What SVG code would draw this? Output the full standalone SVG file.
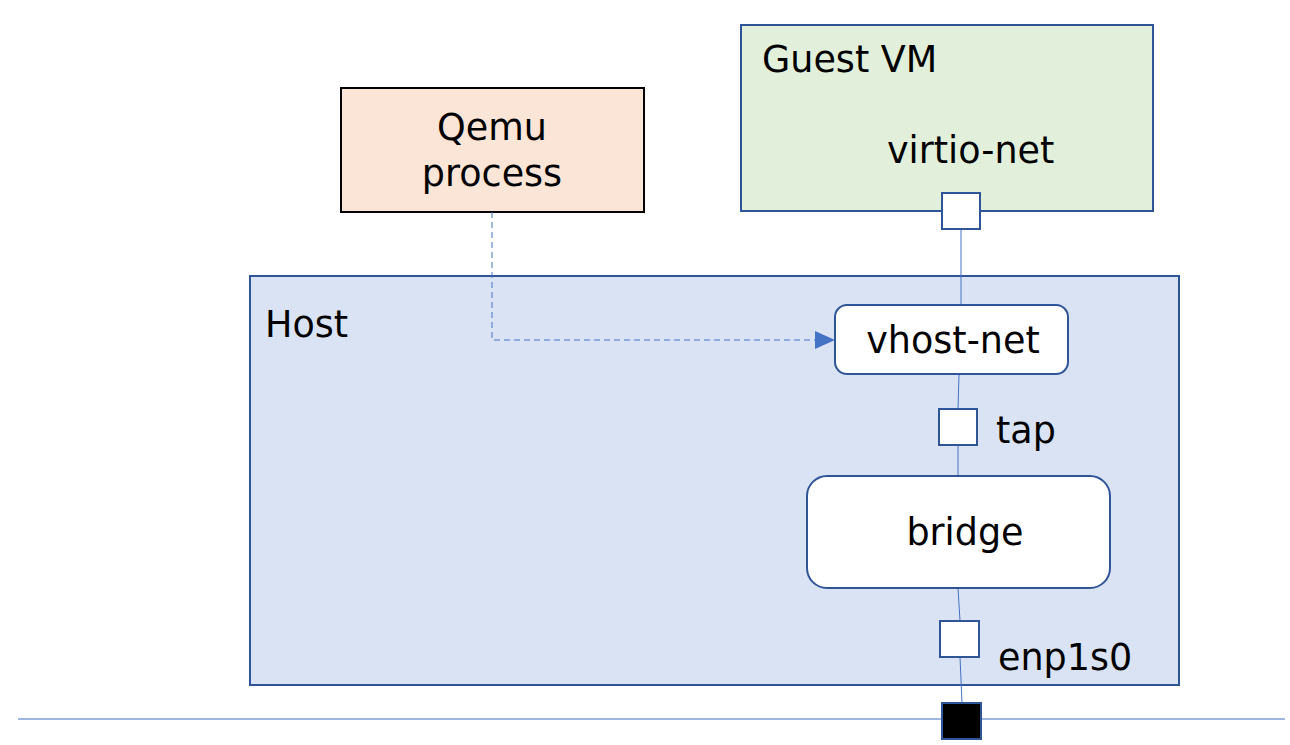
<svg xmlns="http://www.w3.org/2000/svg" width="1290" height="745" viewBox="0 0 1290 745">
<defs>
<style>
text{font-family:"DejaVu Sans","Noto Sans",sans-serif;font-size:36.5px;fill:#000}
.port{fill:#fff;stroke:#2f5597;stroke-width:2}
.link{stroke:#4472c4;stroke-width:1;fill:none}
.box{stroke:#2f5597;stroke-width:2}
</style>
<marker id="arr" markerWidth="20" markerHeight="18" refX="19" refY="9" orient="auto" markerUnits="userSpaceOnUse" viewBox="0 0 20 18">
<path d="M0,0 L20,9 L0,18 z" fill="#4472c4"/>
</marker>
</defs>
<rect width="1290" height="745" fill="#fff"/>
<g id="network-line"><line x1="18" y1="719" x2="1285" y2="719" stroke="#7f9fd6" stroke-width="1.5"/></g>
<g id="host">
<rect class="box" x="250" y="276" width="929" height="409" fill="#dae3f3"/>
<text x="265" y="337">Host</text>
</g>
<g id="qemu">
<rect x="341" y="88" width="303" height="124" fill="#fbe5d6" stroke="#000" stroke-width="2"/>
<text x="492" y="140" text-anchor="middle">Qemu</text>
<text x="492" y="186" text-anchor="middle">process</text>
</g>
<g id="guest-vm">
<rect class="box" x="741" y="25" width="412" height="186" fill="#e2efda"/>
<text x="762" y="72">Guest VM</text>
<text x="887" y="163">virtio-net</text>
</g>
<g id="connectors">
<line class="link" x1="961" y1="229" x2="961" y2="305"/>
<line class="link" x1="959" y1="374" x2="958" y2="409"/>
<line class="link" x1="958" y1="445" x2="958" y2="476"/>
<line class="link" x1="958" y1="588" x2="960" y2="621"/>
<line class="link" x1="960" y1="657" x2="962" y2="703"/>
<path class="link" d="M492,212 V340 H834" stroke-dasharray="6,4" marker-end="url(#arr)"/>
</g>
<g id="virtio-port"><rect class="port" x="942" y="193" width="38" height="36"/></g>
<g id="vhost-net">
<rect class="box" x="835" y="305" width="233" height="69" rx="12" fill="#fff"/>
<text x="953" y="353" text-anchor="middle">vhost-net</text>
</g>
<g id="tap">
<rect class="port" x="939" y="409" width="38" height="36"/>
<text x="996" y="443">tap</text>
</g>
<g id="bridge">
<rect class="box" x="807" y="476" width="303" height="112" rx="20" fill="#fff"/>
<text x="965" y="545" text-anchor="middle">bridge</text>
</g>
<g id="enp1s0">
<rect class="port" x="940" y="621" width="39" height="36"/>
<text x="998" y="670">enp1s0</text>
</g>
<g id="phys-port"><rect x="942" y="703" width="39" height="36" fill="#000" stroke="#2f5597" stroke-width="2"/></g>
</svg>
